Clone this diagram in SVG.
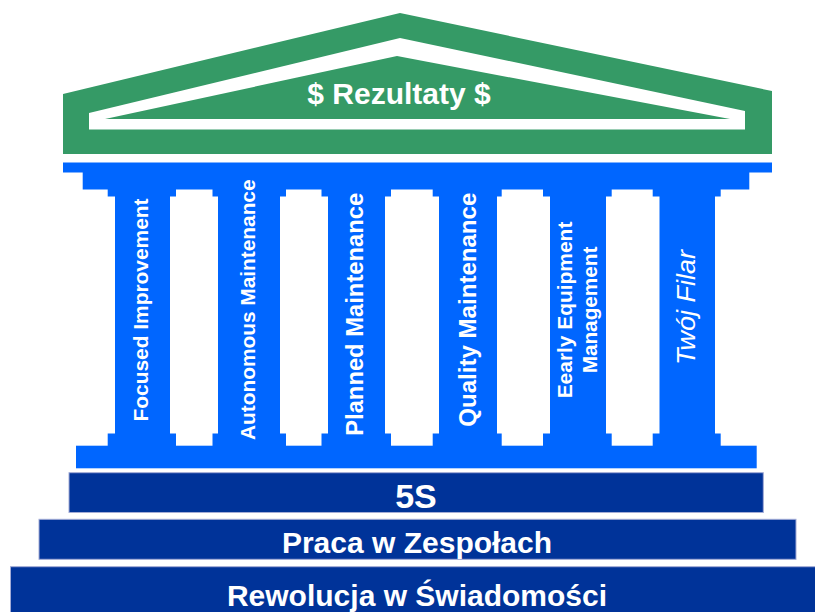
<svg xmlns="http://www.w3.org/2000/svg" width="815" height="612" viewBox="0 0 815 612">
  <style>
    .green { fill: #359a66; }
    .blue { fill: #0066ff; }
    .bar { fill: #003399; stroke: #a3acd6; stroke-width: 1; }
    .t { font-family: "Liberation Sans", Arial, sans-serif; font-weight: bold; fill: #ffffff; text-anchor: middle; }
    .ti { font-family: "Liberation Sans", Arial, sans-serif; font-style: italic; fill: #ffffff; text-anchor: middle; }
  </style>
  <rect x="0" y="0" width="815" height="612" fill="#ffffff"/>

  <g id="roof">
    <polygon class="green" points="63,94 400,13 772,91 772,154 63,154"/>
    <polygon fill="#ffffff" points="89,113 400,38 745,111 745,129.5 89,129.5"/>
    <polygon class="green" points="105,119 397,56 730,119"/>
    <text class="t" x="399" y="104" font-size="30">$ Rezultaty $</text>
  </g>

  <g id="entablature">
    <rect class="blue" x="63" y="162.5" width="709" height="10"/>
    <rect class="blue" x="82.7" y="172" width="666.6" height="17.5"/>
  </g>

  <g id="pillar-1">
    <rect class="blue" x="107.7" y="189" width="68.3" height="7.5"/>
    <rect class="blue" x="115" y="196" width="55" height="238"/>
    <rect class="blue" x="107.7" y="433.5" width="68.3" height="12.5"/>
    <text class="t" transform="translate(147.7,310) rotate(-90)" font-size="21" textLength="223" lengthAdjust="spacingAndGlyphs">Focused Improvement</text>
  </g>

  <g id="pillar-2">
    <rect class="blue" x="212.5" y="189" width="73.5" height="7.5"/>
    <rect class="blue" x="218" y="196" width="62" height="238"/>
    <rect class="blue" x="212.5" y="433.5" width="73.5" height="12.5"/>
    <text class="t" transform="translate(255,309.7) rotate(-90)" font-size="21" textLength="260.5" lengthAdjust="spacingAndGlyphs">Autonomous Maintenance</text>
  </g>

  <g id="pillar-3">
    <rect class="blue" x="321.5" y="189" width="69.5" height="7.5"/>
    <rect class="blue" x="328" y="196" width="57" height="238"/>
    <rect class="blue" x="321.5" y="433.5" width="69.5" height="12.5"/>
    <text class="t" transform="translate(363.3,314.3) rotate(-90)" font-size="24" textLength="243" lengthAdjust="spacingAndGlyphs">Planned Maintenance</text>
  </g>

  <g id="pillar-4">
    <rect class="blue" x="432.7" y="189" width="69" height="7.5"/>
    <rect class="blue" x="439" y="196" width="58" height="238"/>
    <rect class="blue" x="432.7" y="433.5" width="69" height="12.5"/>
    <text class="t" transform="translate(476,309.7) rotate(-90)" font-size="24" textLength="234" lengthAdjust="spacingAndGlyphs">Quality Maintenance</text>
  </g>

  <g id="pillar-5">
    <rect class="blue" x="543" y="189" width="68.7" height="7.5"/>
    <rect class="blue" x="550" y="196" width="56" height="238"/>
    <rect class="blue" x="543" y="433.5" width="68.7" height="12.5"/>
    <text class="t" transform="translate(571.7,310) rotate(-90)" font-size="21" textLength="176.7" lengthAdjust="spacingAndGlyphs">Eearly Equipment</text>
    <text class="t" transform="translate(596.7,310) rotate(-90)" font-size="21" textLength="126.7" lengthAdjust="spacingAndGlyphs">Management</text>
  </g>

  <g id="pillar-6">
    <rect class="blue" x="652.7" y="189" width="68" height="7.5"/>
    <rect class="blue" x="659.5" y="196" width="55.5" height="238"/>
    <rect class="blue" x="652.7" y="433.5" width="68" height="12.5"/>
    <text class="ti" transform="translate(695,307.5) rotate(-90)" font-size="26" textLength="115" lengthAdjust="spacingAndGlyphs">Twój Filar</text>
  </g>

  <g id="stylobate">
    <rect class="blue" x="76" y="445.7" width="680.7" height="22.6"/>
  </g>

  <g id="step-5s">
    <rect class="bar" x="69" y="472.7" width="694.3" height="39.8"/>
    <text class="t" x="416" y="507.7" font-size="34">5S</text>
  </g>

  <g id="step-praca">
    <rect class="bar" x="39" y="519.3" width="757" height="40"/>
    <text class="t" x="417" y="552.7" font-size="30">Praca w Zespołach</text>
  </g>

  <g id="step-rewolucja">
    <rect class="bar" x="10.5" y="566.7" width="810" height="50"/>
    <text class="t" x="417" y="606" font-size="30">Rewolucja w Świadomości</text>
  </g>
</svg>
